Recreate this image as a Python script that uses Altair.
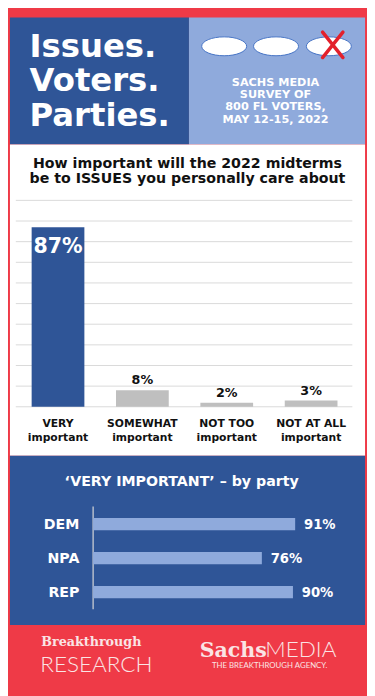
import altair as alt
import pandas as pd

# ---------------- data ----------------
categories = ["VERY", "SOMEWHAT", "NOT TOO", "NOT AT ALL"]
category_sub = ["important", "important", "important", "important"]
shares = [87, 8, 2, 3]
parties = ["DEM", "NPA", "REP"]
party_shares = [91, 76, 90]
grid_ticks = [0, 10, 20, 30, 40, 50, 60, 70, 80, 90, 100]
headline = ["Issues.", "Voters.", "Parties."]
survey_lines = ["SACHS MEDIA", "SURVEY OF", "800 FL VOTERS,", "MAY 12-15, 2022"]
question = ["How important will the 2022 midterms",
            "be to ISSUES you personally care about"]
party_title = "\u2018VERY IMPORTANT\u2019 \u2013 by party"
footer_left = ["Breakthrough", "RESEARCH"]
footer_right = ["Sachs", "MEDIA", "THE BREAKTHROUGH AGENCY."]

# ---------------- styles ----------------
RED = "#EF3A47"
DARK = "#2F5597"
LIGHT = "#8FAADC"
GREY = "#BFBFBF"
GRID = "#D9D9D9"
INK = "#111111"
PINK = "#FAE4E5"
bar_colors = [DARK, GREY, GREY, GREY]

OFF = 5
W, H = 367, 688


def P(v):
    return v - OFF


def txt(s, x, y, size, color, weight="bold", align="left",
        font="DejaVu Sans", baseline="alphabetic"):
    return alt.Chart().mark_text(
        fontSize=size, color=color, fontWeight=weight, align=align,
        font=font, baseline=baseline
    ).encode(x=alt.value(P(x)), y=alt.value(P(y)), text=alt.value(s))


def box(x0, x1, y0, y1, color):
    return alt.Chart().mark_rect(color=color).encode(
        x=alt.value(P(x0)), x2=alt.value(P(x1)),
        y=alt.value(P(y0)), y2=alt.value(P(y1)))


ELLIPSE = ("M -1 0 C -1 -0.232 -0.552 -0.42 0 -0.42 "
           "C 0.552 -0.42 1 -0.232 1 0 C 1 0.232 0.552 0.42 0 0.42 "
           "C -0.552 0.42 -1 0.232 -1 0 Z")
XPATH = "M -0.8 -1 L 0.8 1 M 0.8 -1 L -0.8 1"


def ballot(x, y):
    return alt.Chart().mark_point(
        shape=ELLIPSE, filled=True, fill="white", stroke="#4472C4",
        strokeWidth=1, size=2116, opacity=1
    ).encode(x=alt.value(P(x)), y=alt.value(P(y)))


layers = []
# backgrounds
layers += [
    box(7, 190, 7, 137, DARK),
    box(190, 370, 7, 137, LIGHT),
    box(7, 370, 137, 455, "white"),
    box(7, 370, 455, 628, DARK),
]
# headline
for s, y in zip(headline, [47, 82, 118]):
    layers.append(txt(s, 27, y, 33, "white"))
# ballots
for x in [226, 279, 333]:
    layers.append(ballot(x, 36.5))
layers.append(alt.Chart().mark_point(
    shape=XPATH, filled=False, stroke="#E3202B", strokeWidth=3.5,
    size=676, opacity=1, strokeCap="round"
).encode(x=alt.value(P(337)), y=alt.value(P(35))))
# survey text
for s, y in zip(survey_lines, [77, 89.5, 102, 114.5]):
    layers.append(txt(s, 278.5, y, 11.5, "white", align="center"))
# question
for s, y in zip(question, [161, 176]):
    layers.append(txt(s, 188.5, y, 14.5, INK, align="center"))

# ---------------- main bar chart ----------------
main_df = pd.DataFrame({"category": categories, "sub": category_sub,
                        "share": shares})
xs = alt.Scale(domain=categories, range=[P(13), P(358)],
               paddingInner=0.375, paddingOuter=0.1875)
ys = alt.Scale(domain=[0, 100], range=[P(405), P(194)], nice=False)
X = alt.X("category:N", scale=xs, axis=None)
Y = alt.Y("share:Q", scale=ys, axis=None)

grid = alt.Chart(pd.DataFrame({"tick": grid_ticks})).mark_rule(
    color=GRID, strokeWidth=1
).encode(y=alt.Y("tick:Q", scale=ys, axis=None),
         x=alt.value(P(13)), x2=alt.value(P(357)))
bars = alt.Chart(main_df).mark_bar().encode(
    x=X, y=Y,
    color=alt.Color("category:N", scale=alt.Scale(domain=categories,
                                                  range=bar_colors),
                    legend=None))
lab_in = alt.Chart(main_df).transform_filter(
    alt.datum.share >= 50
).transform_calculate(lbl="datum.share + '%'").mark_text(
    color="white", fontSize=21, fontWeight="bold", dy=26,
    baseline="alphabetic", font="DejaVu Sans"
).encode(x=X, y=Y, text="lbl:N")
lab_out = alt.Chart(main_df).transform_filter(
    alt.datum.share < 50
).transform_calculate(lbl="datum.share + '%'").mark_text(
    color=INK, fontSize=13, fontWeight="bold", dy=-6,
    baseline="alphabetic", font="DejaVu Sans"
).encode(x=X, y=Y, text="lbl:N")
cat1 = alt.Chart(main_df).mark_text(
    color=INK, fontSize=11, fontWeight="bold", font="DejaVu Sans",
    baseline="alphabetic"
).encode(x=X, y=alt.value(P(426)), text="category:N")
cat2 = alt.Chart(main_df).mark_text(
    color=INK, fontSize=11, fontWeight="bold", font="DejaVu Sans",
    baseline="alphabetic"
).encode(x=X, y=alt.value(P(440)), text="sub:N")
main_layer = alt.layer(grid, bars, lab_in, lab_out, cat1, cat2)
layers.append(main_layer)

# ---------------- party chart ----------------
layers.append(txt(party_title, 182.5, 485.5, 14.5, "white", align="center"))
party_df = pd.DataFrame({"party": parties, "share": party_shares})
pxs = alt.Scale(domain=[0, 100], range=[P(92), P(319)], nice=False)
pys = alt.Scale(domain=parties, range=[P(507.5), P(612)],
                paddingInner=0.64, paddingOuter=0.32)
PX = alt.X("share:Q", scale=pxs, axis=None)
PY = alt.Y("party:N", scale=pys, axis=None)
base_rule = alt.Chart(pd.DataFrame({"base": [0]})).mark_rule(
    color=GRID, strokeWidth=1.2
).encode(x=alt.X("base:Q", scale=pxs, axis=None),
         y=alt.value(P(507)), y2=alt.value(P(612)))
pbars = alt.Chart(party_df).mark_bar(color=LIGHT).encode(x=PX, y=PY)
plab = alt.Chart(party_df).transform_calculate(
    lbl="datum.share + '%'"
).mark_text(color="white", fontSize=13.5, fontWeight="bold", align="left",
            baseline="middle", dx=9, dy=1, font="DejaVu Sans"
            ).encode(x=PX, y=PY, text="lbl:N")
pname = alt.Chart(party_df).mark_text(
    color="white", fontSize=14.5, fontWeight="bold", align="right",
    baseline="middle", dy=1, font="DejaVu Sans"
).encode(x=alt.value(P(78)), y=PY, text="party:N")
party_layer = alt.layer(base_rule, pbars, plab, pname)
layers.append(party_layer)

# ---------------- footer ----------------
layers += [
    txt(footer_left[0], 39, 650, 13, PINK, font="DejaVu Serif"),
    txt(footer_left[1], 38, 676, 23, PINK, weight=300, font="Lato"),
    txt(footer_right[0], 201, 661, 21, PINK, font="DejaVu Serif"),
    txt(footer_right[1], 268, 661, 23, PINK, weight=300, font="Lato"),
    txt(footer_right[2], 272.5, 672.5, 8, PINK, weight=400, font="Lato",
        align="center"),
]

chart = alt.layer(*layers, data=alt.Data(values=[{"k": 0}])).resolve_scale(
    x="independent", y="independent"
).properties(
    width=W, height=H, background=RED, padding=0,
    autosize=alt.AutoSizeParams(type="none")
).configure_view(stroke=None)

chart.save("out.html", embed_options={"renderer": "svg", "actions": False})
